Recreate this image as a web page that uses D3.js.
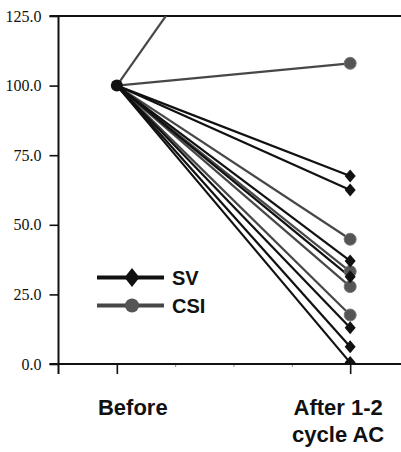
<!DOCTYPE html>
<html>
<head>
<meta charset="utf-8">
<script src="https://cdn.jsdelivr.net/npm/d3@7"></script>
<style>
  html, body { margin: 0; padding: 0; background: #fff; }
  svg { display: block; }
</style>
</head>
<body>
<svg id="chart" width="401" height="452"></svg>
<script>
// categories sit at positions 1 and 5 of a 0..6 x axis (as in the original plot)
const categories = ["Before", "After 1-2 cycle AC"];
const catPos = [1, 5];
const yTicks = [0, 25, 50, 75, 100, 125];

// percent of baseline, every patient starts at 100
const svBefore = [100, 100, 100, 100, 100, 100, 100];
const svAfter = [67.5, 62.5, 37, 31.3, 13, 6.2, 0.5];
const csiBefore = [100, 100, 100, 100, 100, 100];
const csiAfter = [219, 108, 44.8, 33.2, 27.8, 17.6];

const SV_COL = '#111111';
const CSI_COL = '#474747';

const svg = d3.select("#chart");

const x = d3.scaleLinear().domain([0, 6]).range([58.5, 408.5]);
const y = d3.scaleLinear().domain([0, 125]).range([364, 16]);

// clip the lines to the plotting area (one goes way over 125)
svg.append("clipPath").attr("id", "plotclip")
  .append("rect")
  .attr("x", x(0)).attr("y", y(125))
  .attr("width", 401 - x(0)).attr("height", y(0) - y(125));

// y axis
const yAxis = d3.axisLeft(y).tickValues(yTicks).tickFormat(d3.format(".1f")).tickSize(9).tickPadding(8);
const gy = svg.append("g").attr("transform", `translate(${x(0)},0)`).call(yAxis);
gy.select(".domain").remove();
gy.selectAll(".tick line").attr("stroke", "#111").attr("stroke-width", 1.6);
gy.selectAll(".tick text")
  .style("font-family", "'Liberation Serif', 'Times New Roman', serif")
  .style("font-size", "16px")
  .attr("fill", "#111");
svg.append("line")
  .attr("x1", x(0)).attr("x2", x(0))
  .attr("y1", y(125)).attr("y2", y(0) + 10)
  .attr("stroke", "#111").attr("stroke-width", 2);

// top line at 125
svg.append("line")
  .attr("x1", x(0) - 9).attr("x2", 401)
  .attr("y1", y(125)).attr("y2", y(125))
  .attr("stroke", "#111").attr("stroke-width", 2);

// x axis
const xAxis = d3.axisBottom(x).tickValues([1, 2, 3, 4, 5]).tickFormat("")
  .tickSize(10).tickSizeOuter(0);
const gx = svg.append("g").attr("transform", `translate(0,${y(0)})`).call(xAxis);
gx.select(".domain").remove();
gx.selectAll(".tick line")
  .attr("stroke", "#111")
  .attr("stroke-width", d => catPos.includes(d) ? 1.6 : 1)
  .attr("y2", d => catPos.includes(d) ? 10 : 3)
  .attr("stroke-opacity", d => catPos.includes(d) ? 1 : 0.5);
svg.append("line")
  .attr("x1", x(0) - 9).attr("x2", 401)
  .attr("y1", y(0)).attr("y2", y(0))
  .attr("stroke", "#111").attr("stroke-width", 2);

// category labels
const labelFont = "'Liberation Sans', Arial, Helvetica, sans-serif";
const labelOff = [16, -12];
categories.forEach((c, i) => {
  const words = i === 1 ? ["After 1-2", "cycle AC"] : [c];
  const t = svg.append("text")
    .attr("x", x(catPos[i]) + labelOff[i])
    .attr("y", 415)
    .attr("text-anchor", "middle")
    .style("font-family", labelFont)
    .style("font-weight", "bold")
    .style("font-size", "22px")
    .attr("fill", "#111");
  words.forEach((w, j) => {
    t.append("tspan").attr("x", x(catPos[i]) + labelOff[i]).attr("dy", j ? 27 : 0).text(w);
  });
});

const plot = svg.append("g").attr("clip-path", "url(#plotclip)");

function pairs(before, after) {
  return before.map((b, i) => [[catPos[0], b], [catPos[1], after[i]]]);
}
const line = d3.line().x(d => x(d[0])).y(d => y(d[1]));

plot.selectAll("path.csi").data(pairs(csiBefore, csiAfter)).join("path")
  .attr("class", "csi").attr("d", line)
  .attr("fill", "none").attr("stroke", CSI_COL).attr("stroke-width", 2.2);
plot.selectAll("path.sv").data(pairs(svBefore, svAfter)).join("path")
  .attr("class", "sv").attr("d", line)
  .attr("fill", "none").attr("stroke", SV_COL).attr("stroke-width", 2.2);

const diamond = (hw, hh) => `M0,${-hh}L${hw},0L0,${hh}L${-hw},0Z`;

// markers after
plot.selectAll("circle.csi").data(csiAfter).join("circle")
  .attr("class", "csi")
  .attr("cx", x(catPos[1])).attr("cy", d => y(d)).attr("r", 6)
  .attr("fill", "#555").attr("stroke", "#777").attr("stroke-width", 1);
plot.selectAll("path.svm").data(svAfter).join("path")
  .attr("class", "svm")
  .attr("transform", d => `translate(${x(catPos[1])},${y(d)})`)
  .attr("d", diamond(5.5, 6.5))
  .attr("fill", SV_COL);

// markers before (all overlap in one dark dot)
plot.selectAll("circle.before").data(svBefore.slice(0, 1)).join("circle")
  .attr("class", "before")
  .attr("cx", x(catPos[0])).attr("cy", d => y(d)).attr("r", 6)
  .attr("fill", SV_COL);

// legend
const legend = [
  { name: "SV", col: SV_COL, shape: "diamond", y: 277.5 },
  { name: "CSI", col: CSI_COL, shape: "circle", y: 305.5 }
];
const lg = svg.append("g");
legend.forEach(l => {
  lg.append("line")
    .attr("x1", 97).attr("x2", 164).attr("y1", l.y).attr("y2", l.y)
    .attr("stroke", l.col).attr("stroke-width", 4);
  if (l.shape === "diamond") {
    lg.append("path").attr("transform", `translate(132,${l.y})`)
      .attr("d", diamond(7.5, 9.5)).attr("fill", l.col);
  } else {
    lg.append("circle").attr("cx", 132).attr("cy", l.y).attr("r", 7)
      .attr("fill", "#555");
  }
  lg.append("text")
    .attr("x", 172).attr("y", l.y + 7)
    .style("font-family", labelFont)
    .style("font-weight", "bold")
    .style("font-size", "20px")
    .attr("fill", "#111")
    .text(l.name);
});
</script>
</body>
</html>
